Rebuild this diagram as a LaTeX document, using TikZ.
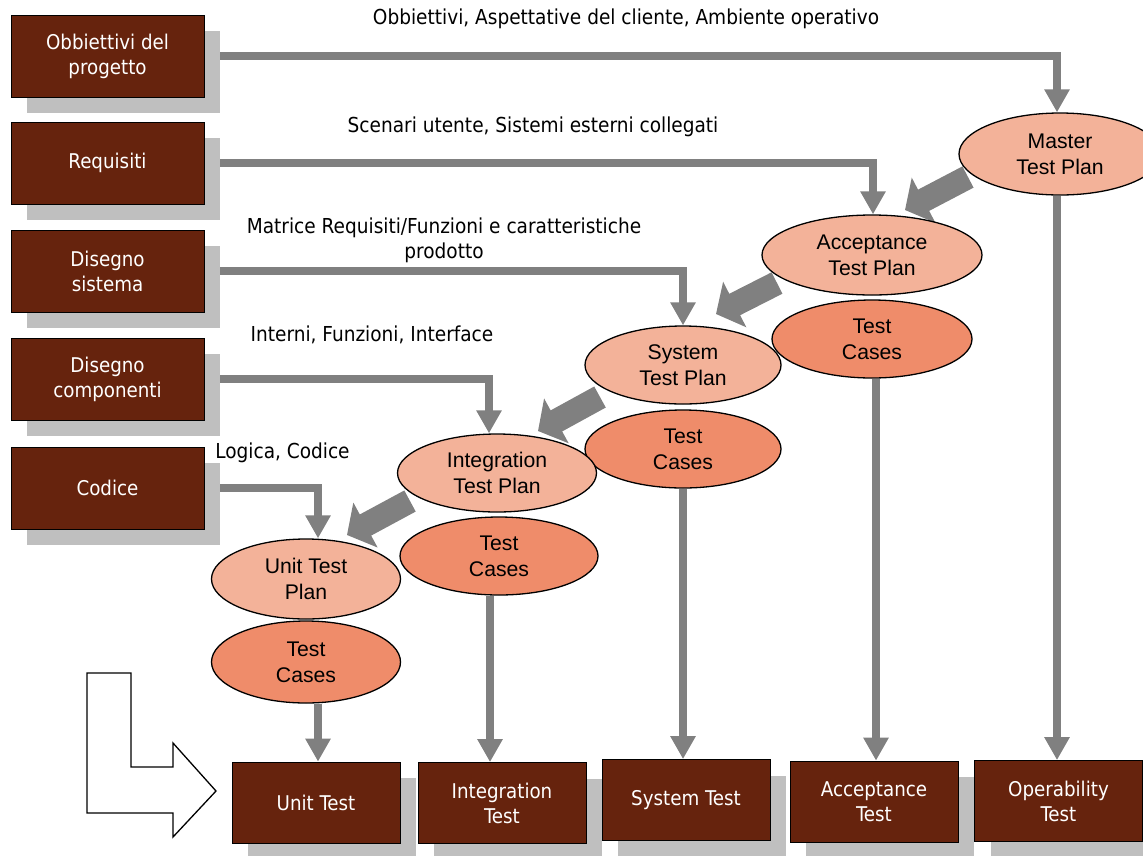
\documentclass[tikz,border=0pt]{standalone}
\usepackage{fontspec}
\setmainfont{Liberation Sans}
\newfontfamily\tah{DejaVu Sans Condensed}
\usetikzlibrary{arrows.meta,shapes.geometric,shadows}
\definecolor{brownbox}{RGB}{102,35,13}
\definecolor{shadowgray}{RGB}{191,191,191}
\definecolor{arrowgray}{RGB}{128,128,128}
\definecolor{planfill}{RGB}{243,178,153}
\definecolor{casefill}{RGB}{239,140,106}
\pgfdeclarelayer{background}
\pgfsetlayers{background,main}
\begin{document}
\begin{tikzpicture}[x=1pt,y=-1pt,
  box/.style={fill=brownbox, draw=black, line width=0.8pt, inner sep=0pt,
    align=center, text=white, font=\tah\fontsize{20.3}{25}\selectfont,
    drop shadow={shadow xshift=16pt, shadow yshift=-16pt, fill=shadowgray, opacity=1, draw=none}},
  srcbox/.style={box, minimum width=193pt, minimum height=82pt},
  testbox/.style={box, minimum width=168pt, minimum height=81pt},
  ell/.style={ellipse, draw=black, line width=1.3pt, inner sep=0pt, align=center,
    font=\fontsize{21.2}{26}\selectfont},
  plan/.style={ell, fill=planfill},
  cases/.style={ell, fill=casefill},
  lbl/.style={align=center, inner sep=0pt, font=\tah\fontsize{20.6}{25}\selectfont},
  conn/.style={draw=arrowgray, line width=8pt, line join=miter,
    -{Triangle[length=23pt,width=24pt]}},
  fat/.style={draw=arrowgray, line width=24pt,
    -{Triangle[length=21pt,width=50pt]}},
  hollow/.style={draw=black, line width=1.3pt, fill=white, line join=miter}
]
\useasboundingbox (0,0) rectangle (1143,855);

% source boxes
\node[srcbox] (b1) at (107.5,56) {Obbiettivi del\\progetto};
\node[srcbox] (b2) at (107.5,163) {Requisiti};
\node[srcbox] (b3) at (107.5,271) {Disegno\\sistema};
\node[srcbox] (b4) at (107.5,379) {Disegno\\componenti};
\node[srcbox] (b5) at (107.5,488) {Codice};

% ellipses
\node[plan, minimum width=202pt, minimum height=82pt] (mtp) at (1060,154) {Master\\Test Plan};
\node[plan, minimum width=220pt, minimum height=80pt] (atp) at (872,255) {Acceptance\\Test Plan};
\node[cases, minimum width=200pt, minimum height=78pt] (atc) at (872,339) {Test\\Cases};
\node[plan, minimum width=196pt, minimum height=78pt] (stp) at (683,365) {System\\Test Plan};
\node[cases, minimum width=196pt, minimum height=78pt] (stc) at (683,449) {Test\\Cases};
\node[plan, minimum width=199pt, minimum height=78pt] (itp) at (497,473) {Integration\\Test Plan};
\node[cases, minimum width=198pt, minimum height=78pt] (itc) at (499,556) {Test\\Cases};
\node[plan, minimum width=189pt, minimum height=80pt] (utp) at (306,579) {Unit Test\\Plan};
\node[cases, minimum width=189pt, minimum height=82pt] (utc) at (306,662) {Test\\Cases};

% test boxes
\node[testbox] (ut) at (316,802.5) {Unit Test};
\node[testbox] (it) at (502,803) {Integration\\Test};
\node[testbox] (st) at (686,800) {System Test};
\node[testbox] (at) at (874,801.5) {Acceptance\\Test};
\node[testbox] (ot) at (1058.5,801) {Operability\\Test};

% labels
\node[lbl] (l1) at (626,19) {Obbiettivi, Aspettative del cliente, Ambiente operativo};
\node[lbl] (l2) at (533,127) {Scenari utente, Sistemi esterni collegati};
\node[lbl] (l3) at (444,240) {Matrice Requisiti/Funzioni e caratteristiche\\prodotto};
\node[lbl] (l4) at (372,335) {Interni, Funzioni, Interface};
\node[lbl] (l5) at (282.5,453) {Logica, Codice};

% helper coordinates
\coordinate (x1) at (1057,0);
\coordinate (x2) at (873,0);
\coordinate (x3) at (683,0);
\coordinate (x4) at (489,0);
\coordinate (x5) at (318,0);
\coordinate (xi) at (490,0);
\coordinate (xa) at (876,0);
\coordinate (xo) at (1057,0);
\coordinate (f1s) at (968,177);
\coordinate (f1t) at (905,210);
\coordinate (f2s) at (777,283);
\coordinate (f2t) at (716,314);
\coordinate (f3s) at (600,397);
\coordinate (f3t) at (538,431);
\coordinate (f4s) at (410,501);
\coordinate (f4t) at (347,535);

\begin{pgfonlayer}{background}
\draw[conn] (b1.east) -| (mtp.north -| x1);
\draw[conn] (b2.east) -| (atp.north -| x2);
\draw[conn] (b3.east) -| (stp.north -| x3);
\draw[conn] (b4.east) -| (itp.north -| x4);
\draw[conn] (b5.east) -| (utp.north -| x5);

\draw[conn] (utc.south -| x5) -- (ut.north -| x5);
\draw[conn] (itc.south -| xi) -- (it.north -| xi);
\draw[conn] (stc.south -| x3) -- (st.north -| x3);
\draw[conn] (atc.south -| xa) -- (at.north -| xa);
\draw[conn] (mtp.south -| xo) -- (ot.north -| xo);

\draw[fat] (f1s) -- (f1t);
\draw[fat] (f2s) -- (f2t);
\draw[fat] (f3s) -- (f3t);
\draw[fat] (f4s) -- (f4t);
\end{pgfonlayer}

% hollow L arrow
\draw[hollow] (87,673) -- (131,673) -- (131,767) -- (173,767) -- (173,743)
  -- (216,791) -- (173,837) -- (173,813) -- (87,813) -- cycle;
\end{tikzpicture}
\end{document}
